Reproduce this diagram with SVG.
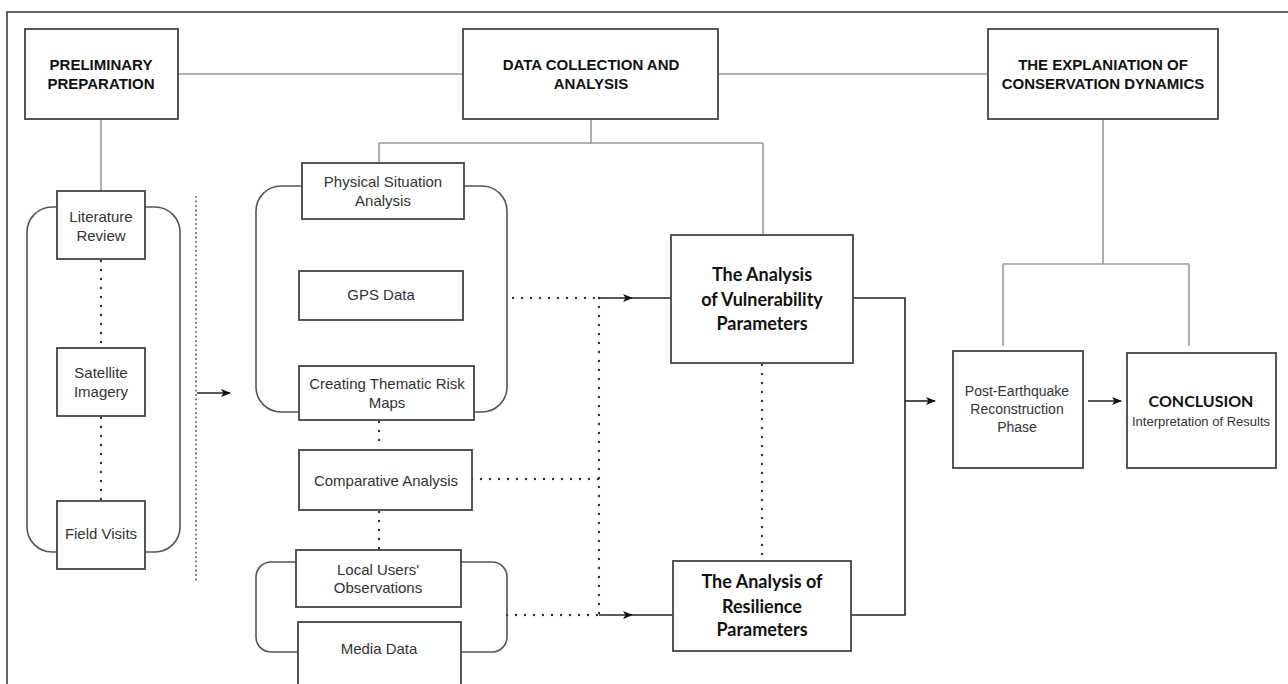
<svg xmlns="http://www.w3.org/2000/svg" width="1288" height="684" viewBox="0 0 1288 684">
<defs>
<marker id="ah" markerWidth="10" markerHeight="8" refX="9" refY="4" orient="auto" markerUnits="userSpaceOnUse">
<path d="M0,0 L10,4 L0,8 L2.5,4 Z" fill="#111"/>
</marker>
<style>
.box{fill:#fff;stroke:#444;stroke-width:1.8}
.brk{fill:none;stroke:#555;stroke-width:1.6}
.grey{fill:none;stroke:#999;stroke-width:1.6}
.solid{fill:none;stroke:#222;stroke-width:1.6}
.dot{fill:none;stroke:#333;stroke-width:2.4;stroke-linecap:round;stroke-dasharray:0 9}
.dot2{fill:none;stroke:#555;stroke-width:1.8;stroke-linecap:round;stroke-dasharray:0 4.5}
.t{font-family:"Liberation Sans",Arial,sans-serif;font-size:15px;fill:#333;text-anchor:middle}
.ts{font-family:"Liberation Sans",Arial,sans-serif;font-size:14px;fill:#333;text-anchor:middle}
.h{font-family:"Liberation Sans",Arial,sans-serif;font-size:15px;font-weight:bold;fill:#111;text-anchor:middle}
.c{font-family:Lato,"Liberation Sans",sans-serif;font-size:18px;font-weight:bold;fill:#111;text-anchor:middle}
</style>
</defs>
<rect width="1288" height="684" fill="#fff"/>
<path d="M7,684 V12 H1288" fill="none" stroke="#333" stroke-width="1.5"/>

<g id="brackets">
<rect class="brk" x="27" y="207" width="153" height="345" rx="25"/>
<rect class="brk" x="256" y="186" width="251" height="226" rx="25"/>
<rect class="brk" x="256" y="562" width="251" height="90" rx="15"/>
</g>

<g id="connectors">
<path class="grey" d="M178,74 H463 M718,74 H988 M101,119 V191 M591,119 V143 M379,143 H763 M379,143 V163 M763,143 V235 M1103,119 V264 M1003,264 H1189 M1003,264 V346 M1189,264 V346"/>
<path class="dot" d="M101,261 V347 M101,418 V500 M379,422 V449 M379,512 V549 M513,298 H599 M472,479 H599 M507,615 H599 M599,298 V615 M762,365 V560"/>
<path class="dot2" d="M196,197 V580"/>
<path class="solid" d="M197,393 H230" marker-end="url(#ah)"/>
<path class="solid" d="M599,298 L632,298 L671,298" marker-mid="url(#ah)"/>
<path class="solid" d="M599,615 L632,615 L673,615" marker-mid="url(#ah)"/>
<path class="solid" d="M853,298 H905 V615 H851"/>
<path class="solid" d="M905,401 H935" marker-end="url(#ah)"/>
<path class="solid" d="M1088,401 H1121" marker-end="url(#ah)"/>
</g>

<g id="prelim"><rect class="box" x="25" y="29" width="153" height="90"/><text class="h" x="101" y="70">PRELIMINARY</text><text class="h" x="101" y="89">PREPARATION</text></g>
<g id="data"><rect class="box" x="463" y="29" width="255" height="90"/><text class="h" x="591" y="70">DATA COLLECTION AND</text><text class="h" x="591" y="89">ANALYSIS</text></g>
<g id="explan"><rect class="box" x="988" y="29" width="230" height="90"/><text class="h" x="1103" y="70">THE EXPLANIATION OF</text><text class="h" x="1103" y="89">CONSERVATION DYNAMICS</text></g>

<g id="lit"><rect class="box" x="57" y="191" width="88" height="68"/><text class="t" x="101" y="222">Literature</text><text class="t" x="101" y="241">Review</text></g>
<g id="sat"><rect class="box" x="57" y="348" width="88" height="68"/><text class="t" x="101" y="378">Satellite</text><text class="t" x="101" y="397">Imagery</text></g>
<g id="field"><rect class="box" x="57" y="501" width="88" height="68"/><text class="t" x="101" y="539">Field Visits</text></g>

<g id="phys"><rect class="box" x="302" y="163" width="162" height="56"/><text class="t" x="383" y="187">Physical Situation</text><text class="t" x="383" y="206">Analysis</text></g>
<g id="gps"><rect class="box" x="299" y="271" width="164" height="49"/><text class="t" x="381" y="300">GPS Data</text></g>
<g id="create"><rect class="box" x="299" y="366" width="175" height="54"/><text class="t" x="387" y="389">Creating Thematic Risk</text><text class="t" x="387" y="408">Maps</text></g>
<g id="comp"><rect class="box" x="299" y="450" width="173" height="60"/><text class="t" x="386" y="486">Comparative Analysis</text></g>
<g id="local"><rect class="box" x="296" y="550" width="165" height="57"/><text class="t" x="378" y="575">Local Users'</text><text class="t" x="378" y="593">Observations</text></g>
<g id="media"><rect class="box" x="298" y="622" width="163" height="70"/><text class="t" x="379" y="654">Media Data</text></g>

<g id="vuln"><rect class="box" x="671" y="235" width="182" height="128"/><text class="c" x="762" y="281">The Analysis</text><text class="c" x="762" y="306">of Vulnerability</text><text class="c" x="762" y="330">Parameters</text></g>
<g id="resil"><rect class="box" x="673" y="561" width="178" height="90"/><text class="c" x="762" y="588">The Analysis of</text><text class="c" x="762" y="613">Resilience</text><text class="c" x="762" y="636">Parameters</text></g>

<g id="post"><rect class="box" x="953" y="351" width="130" height="117"/><text class="ts" x="1017" y="396">Post-Earthquake</text><text class="ts" x="1017" y="414">Reconstruction</text><text class="ts" x="1017" y="432">Phase</text></g>
<g id="concl"><rect class="box" x="1127" y="353" width="149" height="115"/><text class="c" x="1201" y="407" style="font-size:16px">CONCLUSION</text><text class="ts" x="1201" y="426" style="font-size:13px">Interpretation of Results</text></g>
</svg>
